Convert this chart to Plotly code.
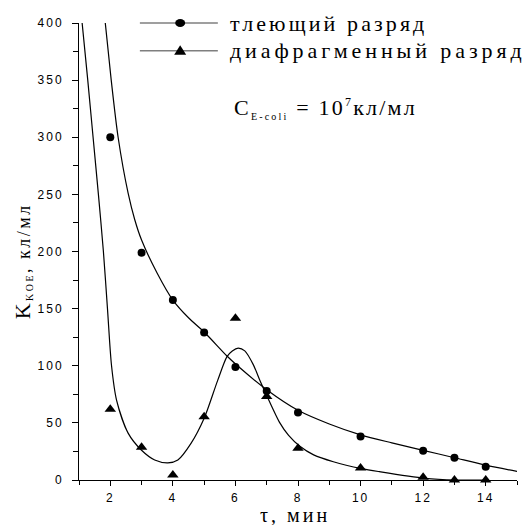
import plotly.graph_objects as go

# measured points
t_points = [2, 3, 4, 5, 6, 7, 8, 10, 12, 13, 14]
glow_values = [300, 199, 157.5, 129, 99, 78, 59, 38, 25.6, 19.5, 11.7]
diaph_values = [62, 28.6, 4.4, 55.4, 141.5, 73, 27.7, 10.5, 2.4, 0, 0]

# fitted curves
glow_fit_x = [1.84, 2.03, 2.25, 2.57, 2.78, 3.0, 3.5, 4.0, 4.5, 5.0, 5.73, 6.04, 7.0, 8.0, 9.0, 10.0, 11.0, 12.0, 13.0, 14.0, 15.0]
glow_fit_y = [400, 350, 300, 251, 228, 210, 181, 157.5, 142, 129.5, 108.5, 100.6, 79, 61, 49, 39.5, 32.5, 26, 19.5, 13, 7.5]
diaph_fit_x = [1.10, 1.28, 1.45, 1.62, 1.78, 1.91, 2.04, 2.2, 2.57, 3.0, 3.42, 3.84, 4.16, 4.58, 5.0, 5.43, 5.73, 5.9, 6.09, 6.3, 6.57, 6.8, 7.0, 7.42, 7.7, 8.06, 8.5, 9.13, 10.03, 10.6, 12.05, 13.05, 14.0]
diaph_fit_y = [400, 350, 300, 250, 200, 150, 100, 70, 41, 26, 17.5, 15, 17.5, 32, 54, 87, 108, 113, 115.5, 113, 101, 86, 74, 50, 39, 29.5, 22, 16, 10, 7.3, 1.5, 0, 0]

legend_names = ["тлеющий разряд", "диафрагменный разряд"]
x_ticks = [2, 4, 6, 8, 10, 12, 14]
y_ticks = [0, 50, 100, 150, 200, 250, 300, 350, 400]

fig = go.Figure()

line_style = dict(color="black", width=1.2)
fig.add_trace(go.Scatter(x=glow_fit_x, y=glow_fit_y, mode="lines", line=dict(shape="spline", smoothing=0.8, **line_style), showlegend=False, hoverinfo="skip"))
fig.add_trace(go.Scatter(x=diaph_fit_x, y=diaph_fit_y, mode="lines", line=dict(shape="spline", smoothing=0.8, **line_style), showlegend=False, hoverinfo="skip"))
fig.add_trace(go.Scatter(x=t_points, y=glow_values, mode="markers", marker=dict(symbol="circle", size=8, color="black"), showlegend=False, cliponaxis=False))
fig.add_trace(go.Scatter(x=t_points, y=diaph_values, mode="markers", marker=dict(symbol="triangle-up", size=10, color="black"), showlegend=False, cliponaxis=False))

# manual legend samples (paper coordinates)
W, H = 438.0, 457.0
leg_y = [1.0, 0.9395]
lx0, lx1, lxm = 0.139, 0.317, 0.231
shapes = []
for yy in leg_y:
    shapes.append(dict(type="line", xref="paper", yref="paper", x0=lx0, x1=lx1, y0=yy, y1=yy,
                       line=dict(color="#7f7f7f", width=1.5), layer="above"))
rx, ry = 5.0 / W, 4.0 / H
shapes.append(dict(type="circle", xref="paper", yref="paper", x0=lxm - rx, x1=lxm + rx,
                   y0=leg_y[0] - ry, y1=leg_y[0] + ry, fillcolor="black", line=dict(color="black", width=0), layer="above"))
tw, tup, tdn = 6.0 / W, 5.5 / H, 4.0 / H
yy = leg_y[1]
shapes.append(dict(type="path", xref="paper", yref="paper",
                   path=f"M{lxm - tw},{yy - tdn} L{lxm + tw},{yy - tdn} L{lxm},{yy + tup} Z",
                   fillcolor="black", line=dict(color="black", width=0), layer="above"))

serif = "Liberation Serif"
annotations = []
for yy, name in zip(leg_y, legend_names):
    annotations.append(dict(x=0.340, y=yy, xref="paper", yref="paper", text=name, showarrow=False,
                            xanchor="left", yanchor="middle", font=dict(family=serif, size=22, color="black")))
annotations.append(dict(x=0.349, y=0.814, xref="paper", yref="paper",
                        text="C<sub><span style='font-size:10px'>E-coli</span></sub> = 10<sup><span style='font-size:12px'>7</span></sup>кл/мл",
                        showarrow=False, xanchor="left", yanchor="middle", font=dict(family=serif, size=22, color="black")))
annotations.append(dict(x=-0.13, y=0.478, xref="paper", yref="paper", textangle=-90,
                        text="<span style='font-size:22px'>K</span><sub><span style='font-size:10px'>KOE</span></sub>, кл/мл",
                        showarrow=False, xanchor="center", yanchor="middle", font=dict(family=serif, size=18, color="black")))
annotations.append(dict(x=0.493, y=-0.0766, xref="paper", yref="paper", text="τ, мин",
                        showarrow=False, xanchor="center", yanchor="middle", font=dict(family=serif, size=20, color="black")))

fig.update_layout(
    width=525, height=525,
    margin=dict(l=79, r=8, t=23, b=45),
    paper_bgcolor="white", plot_bgcolor="white",
    showlegend=False,
    annotations=annotations,
    shapes=shapes,
    xaxis=dict(range=[1, 15], tickvals=x_ticks, ticks="outside", ticklen=5, tickwidth=1, tickcolor="black",
               showline=True, linecolor="black", linewidth=1, showgrid=False, zeroline=False,
               tickfont=dict(family="Liberation Sans", size=12, color="black"), ticklabelstandoff=2,
               minor=dict(dtick=1, tick0=1, ticks="outside", ticklen=4, tickcolor="black", showgrid=False)),
    yaxis=dict(range=[0, 400], tickvals=y_ticks, ticks="outside", ticklen=6, tickwidth=1, tickcolor="black",
               showline=True, linecolor="black", linewidth=1, showgrid=False, zeroline=False,
               tickfont=dict(family="Liberation Sans", size=12, color="black"), ticklabelstandoff=6,
               minor=dict(dtick=25, tick0=0, ticks="outside", ticklen=5, tickcolor="black", showgrid=False)),
)

post = """
var gd = document.getElementById('{plot_id}');
function sp(){
  gd.querySelectorAll('.xtick text, .ytick text').forEach(function(t){t.style.letterSpacing='2px';});
  var a = gd.querySelectorAll('.annotation-text');
  var s = ['3.1px','3.9px','2.2px','2.5px','3px'];
  var keepLeft = [true, true, true, false, false];
  a.forEach(function(t,i){
    if (!s[i]) return;
    var b0 = t.getBBox();
    t.style.letterSpacing = s[i];
    var b1 = t.getBBox();
    if (keepLeft[i]) {
      var dx = b0.x - b1.x;
      t.setAttribute('transform', 'translate(' + dx + ',0)');
    }
  });
}
sp();
"""
fig.write_html("out.html", post_script=post)
